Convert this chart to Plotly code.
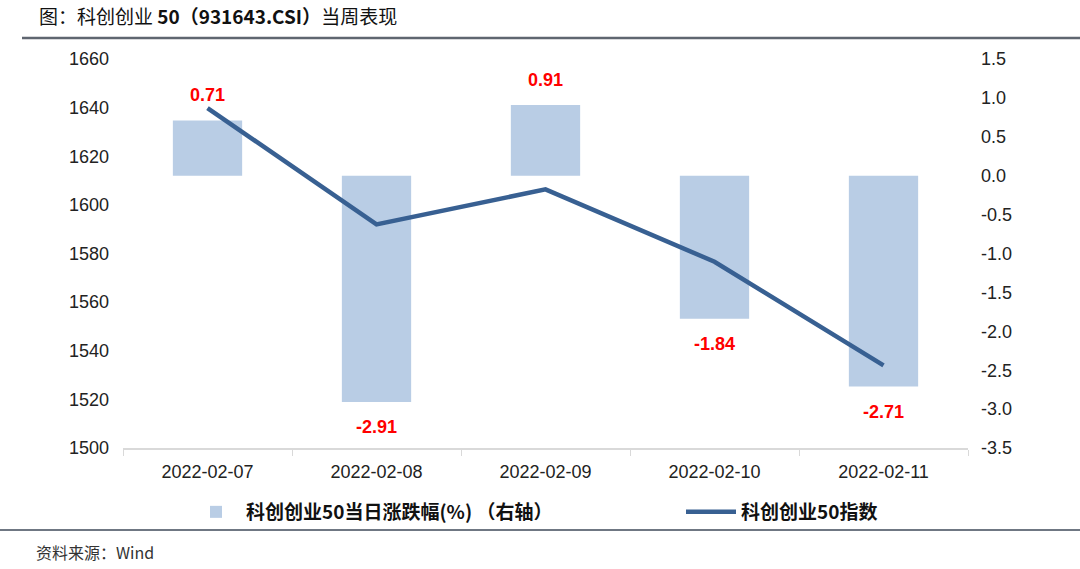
import plotly.graph_objects as go

dates = ["2022-02-07", "2022-02-08", "2022-02-09", "2022-02-10", "2022-02-11"]
pct_change = [0.71, -2.91, 0.91, -1.84, -2.71]
index_close = [1639.8, 1592.0, 1606.4, 1576.6, 1534.0]

left_ticks = list(range(1500, 1661, 20))
right_ticks = [-3.5, -3.0, -2.5, -2.0, -1.5, -1.0, -0.5, 0.0, 0.5, 1.0, 1.5]

FONT = "Liberation Sans, Arial, Noto Sans CJK SC, sans-serif"
CJK = "Noto Sans CJK SC, Liberation Sans, sans-serif"

L, R, T, B = 123, 112, 59, 121
W, H = 1080, 569
PW, PH = W - L - R, H - T - B


def px(xp):
    return (xp - L) / PW


def py(yp):
    return (H - B - yp) / PH


fig = go.Figure()
fig.add_trace(go.Bar(
    x=dates, y=pct_change, name="科创创业50当日涨跌幅(%) （右轴）",
    marker=dict(color="#b9cde5", line=dict(width=0)), width=0.41, yaxis="y",
    legend="legend",
))
fig.add_trace(go.Scatter(
    x=dates, y=index_close, name="科创创业50指数", mode="lines",
    line=dict(color="#386092", width=4.5), yaxis="y2",
    legend="legend2",
))

for d, v in zip(dates, pct_change):
    fig.add_annotation(
        x=d, y=v, xref="x", yref="y", text=f"{v:.2f}", showarrow=False,
        yshift=25 if v >= 0 else -25,
        font=dict(family=FONT, size=18, color="#ff0000", weight="bold"),
    )

# decoration lines
fig.add_shape(type="line", xref="paper", yref="paper", x0=px(22), x1=px(1080), y0=py(38), y1=py(38),
              line=dict(color="#5f6670", width=2.5))
fig.add_shape(type="line", xref="paper", yref="paper", x0=px(0), x1=px(1080), y0=py(530), y1=py(530),
              line=dict(color="#3f4a5a", width=1.5))

fig.add_annotation(
    xref="paper", yref="paper", x=px(37), y=py(16), xanchor="left", yanchor="middle",
    text="图：科创创业 <b>50（931643.CSI）</b>当周表现", showarrow=False,
    font=dict(family=CJK, size=19, color="#111111"),
)
fig.add_annotation(
    xref="paper", yref="paper", x=px(34), y=py(552), xanchor="left", yanchor="middle",
    text="资料来源：Wind", showarrow=False,
    font=dict(family=CJK, size=16, color="#333333"),
)

legend_common = dict(
    orientation="h", xanchor="left", yanchor="middle", y=py(512),
    font=dict(family=CJK, size=19, color="#111111", weight="bold"),
    itemwidth=50, bgcolor="rgba(0,0,0,0)",
)

fig.update_layout(
    width=W, height=H,
    margin=dict(l=L, r=R, t=T, b=B, pad=0),
    paper_bgcolor="white", plot_bgcolor="white",
    font=dict(family=FONT, size=18, color="#222222"),
    showlegend=True,
    legend=dict(x=px(186), **legend_common),
    legend2=dict(x=px(681), **legend_common),
    xaxis=dict(
        type="category", showline=True, linecolor="#d9d9d9", linewidth=1.5,
        ticks="outside", tickson="boundaries", ticklen=6, tickcolor="#d9d9d9",
        showgrid=False, zeroline=False, ticklabelstandoff=7,
        tickfont=dict(size=18, color="#222222"),
    ),
    yaxis=dict(
        side="right", range=[-3.5, 1.5], tickvals=right_ticks,
        ticktext=[f"{t:.1f}" for t in right_ticks],
        showgrid=False, zeroline=False, showline=False, ticks="",
        ticklabelstandoff=12, tickfont=dict(size=18, color="#222222"),
    ),
    yaxis2=dict(
        side="left", overlaying="y", range=[1500, 1660], tickvals=left_ticks,
        showgrid=False, zeroline=False, showline=False, ticks="",
        ticklabelstandoff=13, tickfont=dict(size=18, color="#222222"),
    ),
)

fig.write_html("out.html", config={"displayModeBar": False},
               post_script="document.body.style.margin='0px';")
